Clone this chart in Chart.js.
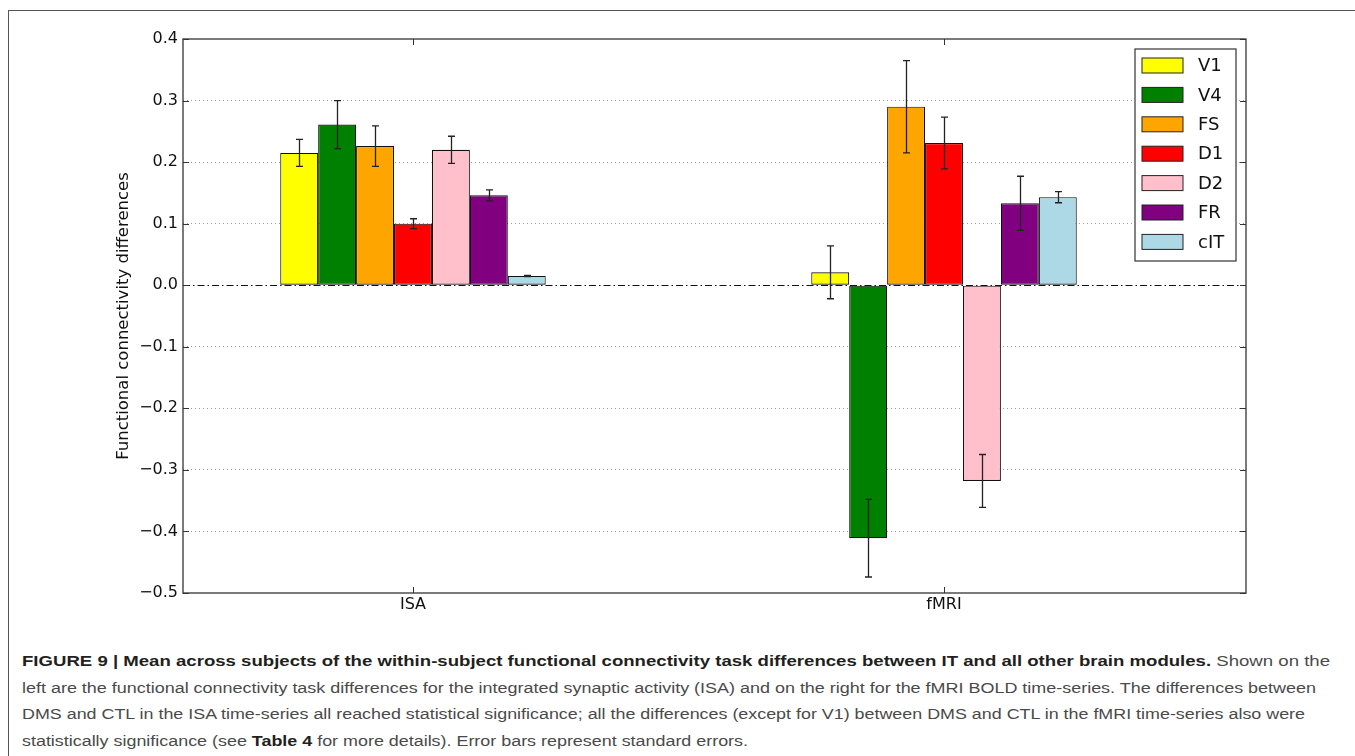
<!DOCTYPE html>
<html>
<head>
<meta charset="utf-8">
<script src="https://cdn.jsdelivr.net/npm/chart.js@4.4.1/dist/chart.umd.min.js"></script>
<style>
  html, body { margin: 0; padding: 0; background: #fff; }
  #wrap { position: relative; width: 1355px; height: 756px; overflow: hidden; }
  #frame { position: absolute; left: 8px; top: 10px; width: 1360px; height: 760px;
           border-left: 1.5px solid #555; border-top: 1.5px solid #555; }
  #c { position: absolute; left: 0; top: 0; }
  #caption { position: absolute; left: 22px; top: 648px;
             font-family: "Liberation Sans Narrow", "Liberation Sans", Arial, sans-serif;
             font-size: 15.5px; line-height: 26.5px; color: #4a4a4a; white-space: nowrap; }
  #caption .ln { display: block; height: 26.5px; }
  #caption .ln span { display: inline-block; transform-origin: 0 0; }
  #caption b { color: #231f20; }
</style>
</head>
<body>
<div id="wrap">
  <div id="frame"></div>
  <canvas id="c" width="1355" height="640"></canvas>
  <div id="caption">
    <div class="ln"><span data-end="1330"><b>FIGURE 9 | Mean across subjects of the within-subject functional connectivity task differences between IT and all other brain modules.</b> Shown on the</span></div>
    <div class="ln"><span data-end="1316">left are the functional connectivity task differences for the integrated synaptic activity (ISA) and on the right for the fMRI BOLD time-series. The differences between</span></div>
    <div class="ln"><span data-end="1305">DMS and CTL in the ISA time-series all reached statistical significance; all the differences (except for V1) between DMS and CTL in the fMRI time-series also were</span></div>
    <div class="ln"><span data-end="748">statistically significance (see <b>Table 4</b> for more details). Error bars represent standard errors.</span></div>
  </div>
</div>
<script>
// ---------- data ----------
const categories = ['ISA', 'fMRI'];
const modules = ['V1', 'V4', 'FS', 'D1', 'D2', 'FR', 'cIT'];
const isaMeans  = [0.215, 0.261, 0.226, 0.100, 0.220, 0.146, 0.015];
const isaErrors = [0.022, 0.039, 0.033, 0.008, 0.022, 0.009, 0.001];
const fmriMeans  = [0.021, -0.411, 0.290, 0.231, -0.318, 0.133, 0.143];
const fmriErrors = [0.043, 0.063, 0.075, 0.042, 0.043, 0.044, 0.009];
const yMin = -0.5, yMax = 0.4, yStep = 0.1;
const yTitle = 'Functional connectivity differences';

// ---------- styles ----------
const moduleColors = ['#ffff00', '#008000', '#ffa500', '#ff0000', '#ffc0cb', '#800080', '#add8e6'];

// fit each caption line to its measured width in the reference
(function () {
  const left = 22;
  document.querySelectorAll('#caption .ln span').forEach((s) => {
    const target = Number(s.dataset.end) - left;
    const w = s.getBoundingClientRect().width;
    if (w > 0) s.style.transform = 'scaleX(' + (target / w) + ')';
  });
})();

Chart.defaults.font.family = '"DejaVu Sans", sans-serif';
Chart.defaults.color = '#111';

const datasets = modules.map((m, i) => ({
  label: m,
  data: [{ x: 0, y: isaMeans[i] }, { x: 1, y: fmriMeans[i] }],
  errors: [isaErrors[i], fmriErrors[i]],
  backgroundColor: moduleColors[i],
  borderColor: '#111',
  borderWidth: 1.1,
  borderSkipped: false,
  categoryPercentage: 0.5,
  barPercentage: 1.0
}));

const decorPlugin = {
  id: 'decor',
  afterDatasetsDraw(chart) {
    const ctx = chart.ctx;
    const a = chart.chartArea;
    const ys = chart.scales.y, xs = chart.scales.x;
    ctx.save();
    // zero dash-dot line
    const y0 = Math.round(ys.getPixelForValue(0)) + 0.5;
    ctx.strokeStyle = '#111';
    ctx.lineWidth = 1;
    ctx.setLineDash([7, 3, 1.5, 3]);
    ctx.beginPath(); ctx.moveTo(a.left, y0); ctx.lineTo(a.right, y0); ctx.stroke();
    ctx.setLineDash([]);
    // error bars
    ctx.strokeStyle = '#222';
    ctx.lineWidth = 1.3;
    chart.data.datasets.forEach((ds, di) => {
      const meta = chart.getDatasetMeta(di);
      meta.data.forEach((el, j) => {
        const v = ds.data[j].y, e = ds.errors[j];
        const x = Math.round(el.x) + 0.5;
        const yt = ys.getPixelForValue(v + e), yb = ys.getPixelForValue(v - e);
        ctx.beginPath();
        ctx.moveTo(x, yt); ctx.lineTo(x, yb);
        ctx.moveTo(x - 3.5, yt); ctx.lineTo(x + 3.5, yt);
        ctx.moveTo(x - 3.5, yb); ctx.lineTo(x + 3.5, yb);
        ctx.stroke();
      });
    });
    // frame
    ctx.strokeStyle = '#333';
    ctx.lineWidth = 1.3;
    ctx.strokeRect(a.left, a.top, a.right - a.left, a.bottom - a.top);
    // inward ticks
    const tl = 6;
    ctx.lineWidth = 1;
    ctx.beginPath();
    ys.ticks.forEach((t) => {
      const y = Math.round(ys.getPixelForValue(t.value)) + 0.5;
      ctx.moveTo(a.left, y); ctx.lineTo(a.left + tl, y);
      ctx.moveTo(a.right, y); ctx.lineTo(a.right - tl, y);
    });
    xs.ticks.forEach((t) => {
      const x = Math.round(xs.getPixelForValue(t.value)) + 0.5;
      ctx.moveTo(x, a.top); ctx.lineTo(x, a.top + tl);
      ctx.moveTo(x, a.bottom); ctx.lineTo(x, a.bottom - tl);
    });
    ctx.stroke();
    ctx.restore();
  },
  afterDraw(chart) {
    const ctx = chart.ctx;
    const a = chart.chartArea;
    const bw = 101, rowH = 29.4;
    const bh = 212;
    const bx = a.right - 10 - bw, by = a.top + 10;
    ctx.save();
    ctx.fillStyle = '#fff';
    ctx.fillRect(bx, by, bw, bh);
    ctx.strokeStyle = '#333';
    ctx.lineWidth = 1.2;
    ctx.strokeRect(bx, by, bw, bh);
    ctx.font = '18px "DejaVu Sans", sans-serif';
    ctx.textBaseline = 'middle';
    ctx.textAlign = 'left';
    chart.data.datasets.forEach((ds, i) => {
      const cy = by + 16.5 + i * rowH;
      ctx.fillStyle = ds.backgroundColor;
      ctx.fillRect(bx + 7, cy - 7.5, 41, 15);
      ctx.strokeStyle = '#222';
      ctx.lineWidth = 1;
      ctx.strokeRect(bx + 7, cy - 7.5, 41, 15);
      ctx.fillStyle = '#111';
      ctx.fillText(ds.label, bx + 63, cy + 1);
    });
    ctx.restore();
  }
};

new Chart(document.getElementById('c'), {
  type: 'bar',
  data: { datasets },
  plugins: [decorPlugin],
  options: {
    responsive: false,
    animation: false,
    layout: { padding: { left: 110, right: 109, top: 39, bottom: 0 } },
    plugins: { legend: { display: false }, tooltip: { enabled: false } },
    scales: {
      x: {
        type: 'linear',
        offset: false,
        min: -0.4331,
        max: 1.5687,
        grid: { display: false, drawTicks: false },
        border: { display: false },
        afterBuildTicks(scale) { scale.ticks = categories.map((c, i) => ({ value: i })); },
        afterFit(scale) { scale.height = 47; },
        ticks: {
          padding: 2,
          maxRotation: 0,
          autoSkip: false,
          font: { size: 16 },
          color: '#111',
          callback: (v) => categories[v] !== undefined ? categories[v] : ''
        }
      },
      y: {
        min: yMin,
        max: yMax,
        afterFit(scale) { scale.width = 73; },
        grid: {
          drawTicks: false,
          lineWidth: 1,
          color: (c) => {
            const v = c.tick ? c.tick.value : 0;
            if (Math.abs(v) < 1e-9 || Math.abs(v - yMax) < 1e-9 || Math.abs(v - yMin) < 1e-9) return 'rgba(0,0,0,0)';
            return '#9a9a9a';
          }
        },
        border: { display: false, dash: [1, 3] },
        title: { display: true, text: yTitle, font: { size: 16.5 }, color: '#111', padding: { top: 4, bottom: 0 } },
        ticks: {
          stepSize: yStep,
          padding: 5,
          font: { size: 16 },
          color: '#111',
          callback: (v) => Number(v).toFixed(1).replace('-', '\u2212')
        }
      }
    }
  }
});
</script>
</body>
</html>
